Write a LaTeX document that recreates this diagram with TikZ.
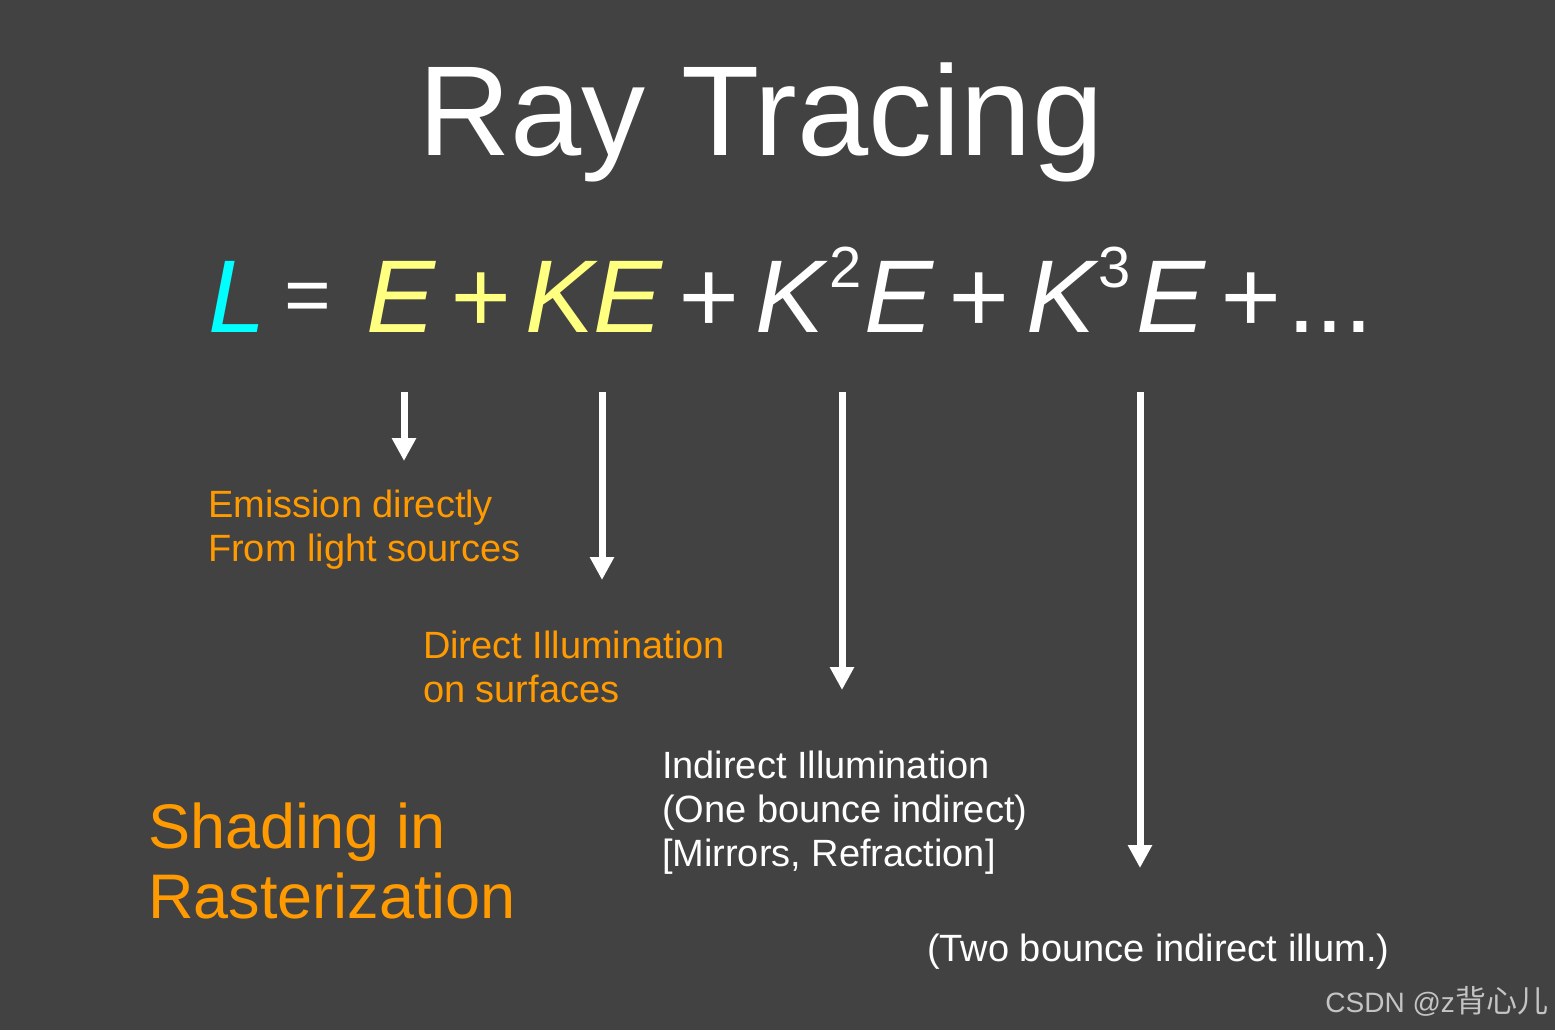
\documentclass[tikz,border=0pt]{standalone}
\usepackage{fontspec}
\setmainfont{Liberation Sans}
\newfontfamily\cjk{Noto Sans CJK SC}
\usetikzlibrary{arrows.meta}
\definecolor{bg}{HTML}{424242}
\definecolor{org}{HTML}{FF9A00}
\definecolor{ylw}{HTML}{FFFF80}
\definecolor{cyn}{HTML}{00FFFF}
\definecolor{wm}{HTML}{C4C4C4}
\tikzset{
  txt/.style={anchor=base west, inner sep=0pt, outer sep=0pt},
  lbl/.style={txt, align=left, font=\fontsize{19}{22}\selectfont},
  eq/.style={txt, font=\fontsize{51.7}{60}\selectfont\itshape},
  sup/.style={txt, font=\fontsize{29}{32}\selectfont},
  arr/.style={white, line width=3.5pt, -{Triangle[width=11.5pt,length=11.5pt]}}
}
\begin{document}
\begin{tikzpicture}[x=0.5pt,y=-0.5pt]
\fill[bg] (0,0) rectangle (1555,1030);
\useasboundingbox (0,0) rectangle (1555,1030);
% title
\node[txt, white, font=\fontsize{64}{70}\selectfont] (title) at (418,155) {Ray Tracing};
% equation
\node[eq, cyn] (eL) at (208,332) {L};
\node[txt, white, font=\fontsize{40}{44}\selectfont] (eEq) at (284,322) {=};
\node[eq, ylw] (eE1) at (366,332) {E};
\node[eq, ylw] (eP1) at (449,332) {+};
\node[eq, ylw] (eKE) at (525,332) {KE};
\node[eq, white] (eP2) at (677,332) {+};
\node[eq, white] (eK2) at (755,332) {K};
\node[sup, white] (s2) at (829,287) {2};
\node[eq, white] (eE2) at (864,332) {E};
\node[eq, white] (eP3) at (947,332) {+};
\node[eq, white] (eK3) at (1026,332) {K};
\node[sup, white] (s3) at (1098,287) {3};
\node[eq, white] (eE3) at (1136,332) {E};
\node[eq, white] (eP4) at (1219,332) {+};
\node[txt, white, font=\fontsize{51.7}{60}\selectfont] (eDots) at (1287,332) {...};
% arrow anchors
\coordinate (a1s) at (404,392); \coordinate (a1e) at (404,461);
\coordinate (a2s) at (602,392); \coordinate (a2e) at (602,580);
\coordinate (a3s) at (842,392); \coordinate (a3e) at (842,690);
\coordinate (a4s) at (1140,392); \coordinate (a4e) at (1140,868);
\draw[arr] (a1s) -- (a1e);
\draw[arr] (a2s) -- (a2e);
\draw[arr] (a3s) -- (a3e);
\draw[arr] (a4s) -- (a4e);
% labels (base anchor = last line baseline)
\node[lbl, org] (l1) at (208,561) {Emission directly\\From light sources};
\node[lbl, org] (l2) at (423,702) {Direct Illumination\\on surfaces};
\node[lbl, white] (l3) at (662,866) {Indirect Illumination\\(One bounce indirect)\\{[Mirrors, Refraction]}};
\node[lbl, white] (l4) at (927,961) {(Two bounce indirect illum.)};
\node[txt, org, align=left, font=\fontsize{31.5}{35}\selectfont] (shade) at (148,918) {Shading in\\Rasterization};
% watermark
\node[txt, anchor=base east, wm, font=\fontsize{14}{16}\selectfont] (wmk) at (1548,1012) {CSDN @z{\cjk\fontsize{15.5}{16}\selectfont 背心儿}};
\end{tikzpicture}
\end{document}
